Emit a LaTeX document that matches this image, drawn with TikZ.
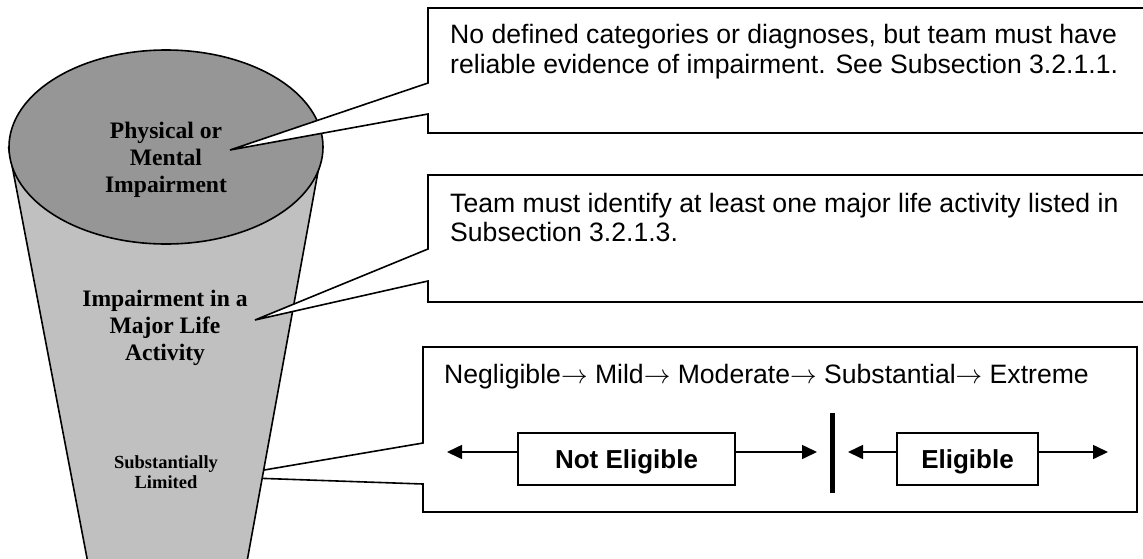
\documentclass[tikz,border=0pt]{standalone}
\usepackage{fix-cm}
\usepackage{fontspec}
\setmainfont{Liberation Sans}
\newfontfamily\tnr{Liberation Serif}
\usetikzlibrary{arrows.meta}
\definecolor{funnelgray}{RGB}{192,192,192}
\definecolor{topgray}{RGB}{150,150,150}
\begin{document}
\begin{tikzpicture}[x=1pt,y=-1pt,
  outline/.style={draw=black,line width=1.6pt,line join=miter},
  calltext/.style={anchor=base west,inner sep=0pt,font=\fontsize{26.6}{30}\selectfont},
  funneltext/.style={align=center,inner sep=0pt,font=\tnr\bfseries\fontsize{23.6}{27}\selectfont},
  smallfunneltext/.style={align=center,inner sep=0pt,font=\tnr\bfseries\fontsize{18.5}{20}\selectfont},
  choice/.style={draw,line width=1.6pt,minimum width=#1,minimum height=52pt,inner sep=0pt,text height=18.6pt,text depth=0pt,font=\bfseries\fontsize{26}{30}\selectfont},
  arr/.style={line width=1.6pt,-{Triangle[length=15pt,width=14pt]}}
]
\useasboundingbox (0,0) rectangle (1143,558);
\clip (0,0) rectangle (1143,558);
% callout 3 (pointer hidden behind the funnel)
\draw[outline,fill=white] (423,443) -- (423,347) -- (1137,347) -- (1137,512) -- (423,512) -- (423,484) -- (223,477) -- cycle;
% funnel
\fill[funnelgray] (8,147) -- (95,600) -- (240,600) -- (323,147) -- cycle;
\draw[outline] (8.5,147) -- (95,600);
\draw[outline] (322.5,147) -- (240,600);
\draw[outline,fill=topgray] (166,147) ellipse [x radius=157pt, y radius=97pt];
\node[funneltext] (f1) at (166,160) {Physical or\\Mental\\Impairment};
\node[funneltext] (f2) at (165,328) {Impairment in a\\Major Life\\Activity};
\node[smallfunneltext] (f3) at (166,472) {Substantially\\Limited};
% callouts 1 and 2
\draw[outline,fill=white] (428,83) -- (428,8) -- (1160,8) -- (1160,133) -- (428,133) -- (428,114) -- (230,150) -- cycle;
\draw[outline,fill=white] (428,249) -- (428,175) -- (1160,175) -- (1160,302) -- (428,302) -- (428,281) -- (255,320) -- cycle;
\node[calltext] (t1a) at (450,43) {No defined categories or diagnoses, but team must have};
\node[calltext] (t1b) at (450,73) {reliable evidence of impairment. See Subsection 3.2.1.1.};
\node[calltext] (t2a) at (450,212) {Team must identify at least one major life activity listed in};
\node[calltext] (t2b) at (450,241) {Subsection 3.2.1.3.};
\node[calltext] (t3) at (444,383) {Negligible$\rightarrow$ Mild$\rightarrow$ Moderate$\rightarrow$ Substantial$\rightarrow$ Extreme};
% eligibility scale
\node[choice=217pt] (ne) at (626.5,459) {Not Eligible};
\node[choice=141pt] (el) at (967.5,459) {Eligible};
\coordinate (aL) at (447,452);
\coordinate (aR) at (817,452);
\coordinate (bL) at (848,452);
\coordinate (bR) at (1108,452);
\draw[arr] (ne.west |- aL) -- (aL);
\draw[arr] (ne.east |- aR) -- (aR);
\draw[arr] (el.west |- bL) -- (bL);
\draw[arr] (el.east |- bR) -- (bR);
\coordinate (barT) at (832,413);
\coordinate (barB) at (832,493);
\draw[line width=5pt] (barT) -- (barB);
\end{tikzpicture}
\end{document}
